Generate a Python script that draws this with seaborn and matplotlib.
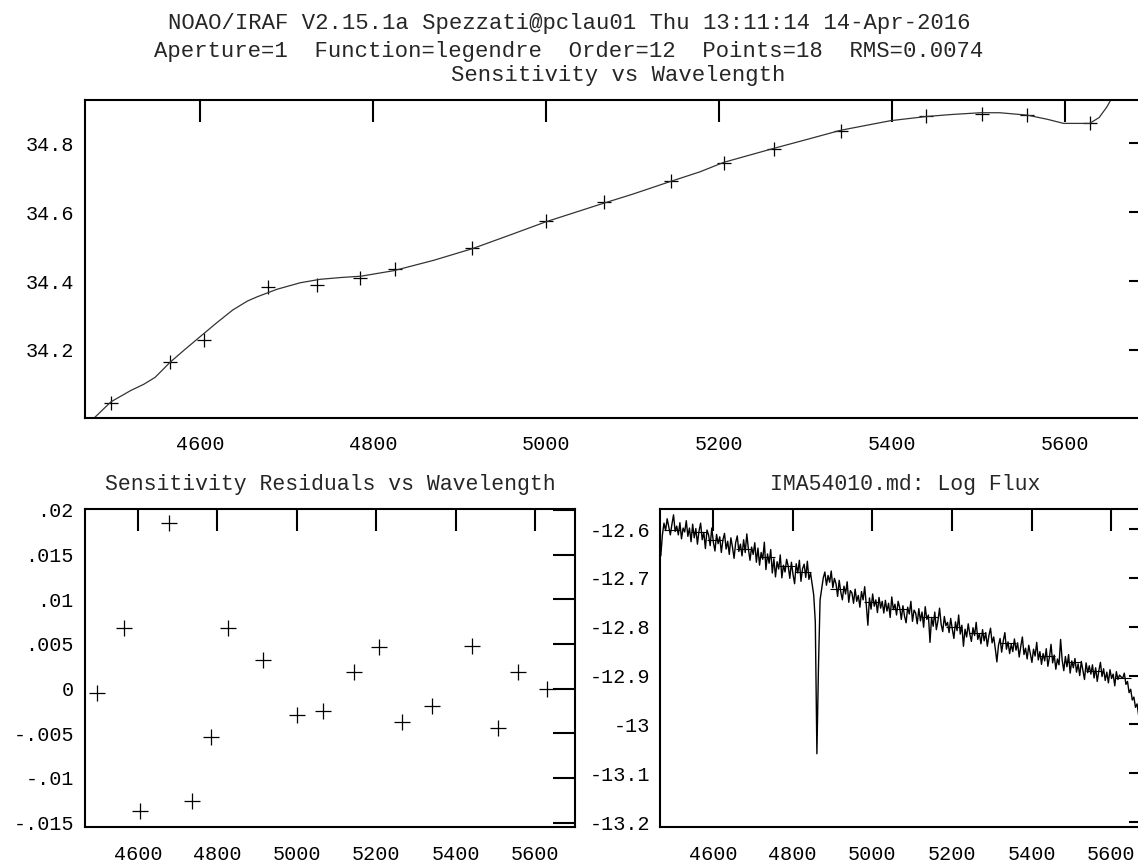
import numpy as np
import pandas as pd
import matplotlib
matplotlib.use("Agg")
import matplotlib.pyplot as plt
import seaborn as sns

# ---------------- text ----------------
header_1 = "NOAO/IRAF V2.15.1a Spezzati@pclau01 Thu 13:11:14 14-Apr-2016"
header_2 = "Aperture=1  Function=legendre  Order=12  Points=18  RMS=0.0074"
title_top = "Sensitivity vs Wavelength"
title_resid = "Sensitivity Residuals vs Wavelength"
title_flux = "IMA54010.md: Log Flux"

# ---------------- data ----------------
# standard-star calibration points
std_wave = [4497, 4565, 4605, 4679, 4735, 4785, 4826, 4915, 5000,
            5067, 5145, 5206, 5264, 5341, 5440, 5505, 5557, 5630]
std_sens = [34.046, 34.166, 34.230, 34.382, 34.389, 34.409, 34.435, 34.496, 34.574,
            34.629, 34.690, 34.743, 34.784, 34.837, 34.880, 34.886, 34.881, 34.860]
std_resid = [-0.0005, 0.0068, -0.0137, 0.0185, -0.0126, -0.0054, 0.0068, 0.0032, -0.0030,
             -0.0025, 0.0018, 0.0046, -0.0037, -0.0020, 0.0048, -0.0044, 0.0018, -0.0001]

# fitted sensitivity curve
fit_wave = [4470, 4478, 4497, 4520, 4535, 4548, 4556, 4565, 4582, 4600, 4620, 4638,
            4655, 4666, 4689, 4716, 4739, 4762, 4786, 4824, 4870, 4915, 4960, 5000,
            5068, 5100, 5145, 5178, 5206, 5263, 5300, 5341, 5372, 5399, 5440, 5470,
            5503, 5525, 5557, 5580, 5599, 5629, 5640, 5649, 5653, 5660]
fit_sens = [33.990, 34.003, 34.049, 34.082, 34.100, 34.120, 34.140, 34.163, 34.200,
            34.238, 34.280, 34.316, 34.342, 34.354, 34.376, 34.395, 34.405, 34.410,
            34.414, 34.430, 34.460, 34.494, 34.535, 34.572, 34.627, 34.652, 34.690,
            34.717, 34.745, 34.785, 34.810, 34.838, 34.853, 34.866, 34.878, 34.884,
            34.889, 34.889, 34.882, 34.870, 34.858, 34.858, 34.875, 34.906, 34.924,
            34.950]

# observed spectrum (log flux), start wavelength and dispersion
spec_start = 4469.0
spec_step = 4.0
log_flux = [
    -12.655, -12.612, -12.588, -12.603, -12.579, -12.596, -12.612, -12.590, -12.571, -12.605,
    -12.594, -12.612, -12.587, -12.620, -12.598, -12.606, -12.583, -12.615, -12.598, -12.626,
    -12.590, -12.618, -12.599, -12.631, -12.604, -12.588, -12.622, -12.607, -12.640, -12.602,
    -12.612, -12.634, -12.598, -12.627, -12.645, -12.611, -12.630, -12.616, -12.648, -12.622,
    -12.609, -12.641, -12.625, -12.652, -12.618, -12.637, -12.660, -12.628, -12.614, -12.646,
    -12.631, -12.655, -12.622, -12.648, -12.610, -12.641, -12.664, -12.637, -12.652, -12.628,
    -12.668, -12.639, -12.674, -12.648, -12.662, -12.627, -12.683, -12.651, -12.670, -12.642,
    -12.690, -12.661, -12.698, -12.667, -12.682, -12.653, -12.700, -12.674, -12.688, -12.662,
    -12.676, -12.701, -12.668, -12.693, -12.712, -12.671, -12.690, -12.664, -12.707, -12.681,
    -12.672, -12.699, -12.666, -12.703, -12.690, -12.712, -12.735, -12.790,
    -13.060,
    -12.880, -12.745, -12.722, -12.700, -12.688, -12.715, -12.695,
    -12.709, -12.686, -12.720, -12.701,
    -12.712, -12.738, -12.705, -12.729, -12.745, -12.717, -12.733, -12.708, -12.750, -12.726,
    -12.731, -12.752, -12.723, -12.748, -12.736, -12.760, -12.728, -12.745, -12.718, -12.755,
    -12.797, -12.741, -12.764, -12.733, -12.758, -12.745, -12.771, -12.740, -12.762, -12.748,
    -12.772, -12.746, -12.768, -12.752, -12.781, -12.739, -12.765, -12.754, -12.776, -12.748,
    -12.761, -12.785, -12.757, -12.778, -12.792, -12.760, -12.774, -12.748, -12.789, -12.766,
    -12.772, -12.794, -12.763, -12.788, -12.770, -12.801, -12.759, -12.785, -12.776, -12.832,
    -12.781, -12.799, -12.770, -12.806, -12.788, -12.762, -12.795, -12.810, -12.779, -12.798,
    -12.791, -12.812, -12.783, -12.805, -12.824, -12.790, -12.808, -12.776, -12.815, -12.797,
    -12.840, -12.805, -12.821, -12.794, -12.815, -12.830, -12.802, -12.818, -12.791, -12.826,
    -12.814, -12.835, -12.806, -12.829, -12.812, -12.840, -12.818, -12.803, -12.833, -12.821,
    -12.845, -12.872, -12.838, -12.824, -12.852, -12.829, -12.812, -12.846, -12.831, -12.855,
    -12.836, -12.851, -12.825, -12.848, -12.833, -12.862, -12.840, -12.821, -12.857, -12.844,
    -12.866, -12.838, -12.855, -12.873, -12.846, -12.860, -12.832, -12.868, -12.851, -12.877,
    -12.855, -12.870, -12.845, -12.881, -12.862, -12.836, -12.874, -12.858, -12.887, -12.866,
    -12.878, -12.826, -12.869, -12.890, -12.861, -12.882, -12.857, -12.895, -12.870, -12.884,
    -12.865, -12.893, -12.876, -12.900, -12.871, -12.889, -12.908, -12.874, -12.894, -12.880,
    -12.897, -12.878, -12.905, -12.884, -12.912, -12.890, -12.873, -12.902, -12.886, -12.910,
    -12.893, -12.915, -12.888, -12.906, -12.897, -12.921, -12.892, -12.908, -12.899, -12.903,
    -12.905, -12.895, -12.918, -12.912, -12.935, -12.928, -12.950, -12.944, -12.965, -12.958,
    -12.982, -12.975, -12.995, -12.990, -13.005, -13.000,
]
# bandpass mean fluxes drawn as short horizontal bars
band_flux = [-12.603, -12.606, -12.622, -12.640, -12.658, -12.675, -12.688, -12.722, -12.750,
             -12.764, -12.780, -12.800, -12.812, -12.834, -12.860, -12.873, -12.890, -12.905]

# axis ticks
x_ticks = [4600, 4800, 5000, 5200, 5400, 5600]
x_tick_labels = ["4600", "4800", "5000", "5200", "5400", "5600"]
sens_ticks = [34.2, 34.4, 34.6, 34.8]
sens_tick_labels = ["34.2", "34.4", "34.6", "34.8"]
resid_ticks = [-0.015, -0.01, -0.005, 0.0, 0.005, 0.01, 0.015, 0.02]
resid_tick_labels = ["-.015", "-.01", "-.005", "0", ".005", ".01", ".015", ".02"]
flux_ticks = [-13.2, -13.1, -13.0, -12.9, -12.8, -12.7, -12.6]
flux_tick_labels = ["-13.2", "-13.1", "-13", "-12.9", "-12.8", "-12.7", "-12.6"]

# ---------------- styling ----------------
sns.set_style("white")
plt.rcParams["font.family"] = ["Liberation Mono", "DejaVu Sans"]
plt.rcParams["axes.linewidth"] = 1.5

W, H = 1138, 865
fig = plt.figure(figsize=(W / 100, H / 100), dpi=100)


def px_axes(left, top, right, bottom):
    return fig.add_axes([left / W, 1 - bottom / H, (right - left) / W, (bottom - top) / H])


ax_top = px_axes(85, 100, 1151, 418)
ax_res = px_axes(85, 509, 575, 827)
ax_flux = px_axes(660, 509, 1151, 827)

XLIM = (4467, 5700)

# top: sensitivity
sns.lineplot(x=fit_wave, y=fit_sens, ax=ax_top, color="#333333", linewidth=0.9,
             estimator=None, sort=False)
sns.scatterplot(x=std_wave, y=std_sens, ax=ax_top, marker="+", color="black",
                s=110, linewidth=0.9)
ax_top.set_xlim(*XLIM)
ax_top.set_ylim(34.002, 34.926)
ax_top.set_yticks(sens_ticks)
ax_top.set_yticklabels(sens_tick_labels)

# residuals
sns.scatterplot(x=std_wave, y=std_resid, ax=ax_res, marker="+", color="black",
                s=130, linewidth=0.9)
ax_res.set_xlim(*XLIM)
ax_res.set_ylim(-0.0155, 0.0201)
ax_res.set_yticks(resid_ticks)
ax_res.set_yticklabels(resid_tick_labels)

# log flux
spec_wave = spec_start + spec_step * np.arange(len(log_flux))
sns.lineplot(x=spec_wave, y=log_flux, ax=ax_flux, color="black", linewidth=1.0,
             estimator=None, sort=False)
band_half = 20
ax_flux.hlines(band_flux, np.array(std_wave) - band_half, np.array(std_wave) + band_half,
               color="black", linewidth=0.8)
ax_flux.set_xlim(*XLIM)
ax_flux.set_ylim(-13.21, -12.559)
ax_flux.set_yticks(flux_ticks)
ax_flux.set_yticklabels(flux_tick_labels)

for ax in (ax_top, ax_res, ax_flux):
    ax.set_xticks(x_ticks)
    ax.set_xticklabels(x_tick_labels)
    ax.set_xlabel("")
    ax.set_ylabel("")
    ax.tick_params(direction="in", length=16, width=1.5, top=True, right=True,
                   labelsize=14.5, colors="black")
    for sp in ax.spines.values():
        sp.set_visible(True)
        sp.set_linewidth(1.5)
        sp.set_color("black")
    ax.set_facecolor("white")

ax_top.tick_params(axis="x", pad=12)
ax_res.tick_params(axis="x", pad=13)
ax_flux.tick_params(axis="x", pad=13)
ax_top.tick_params(axis="y", pad=8)
ax_res.tick_params(axis="y", pad=8)
ax_flux.tick_params(axis="y", pad=7)

# titles
fig.text(0.5, 1 - 24 / H, header_1, ha="center", va="center", fontsize=16)
fig.text(0.5, 1 - 52 / H, header_2, ha="center", va="center", fontsize=16)
ax_top.text(0.5, 1 + 25 / 318, title_top, transform=ax_top.transAxes,
            ha="center", va="center", fontsize=16)
ax_res.text(0.5, 1 + 25 / 318, title_resid, transform=ax_res.transAxes,
            ha="center", va="center", fontsize=15.5)
ax_flux.text(0.5, 1 + 25 / 318, title_flux, transform=ax_flux.transAxes,
             ha="center", va="center", fontsize=15.5)

fig.savefig("out.png", dpi=100, facecolor="white")
